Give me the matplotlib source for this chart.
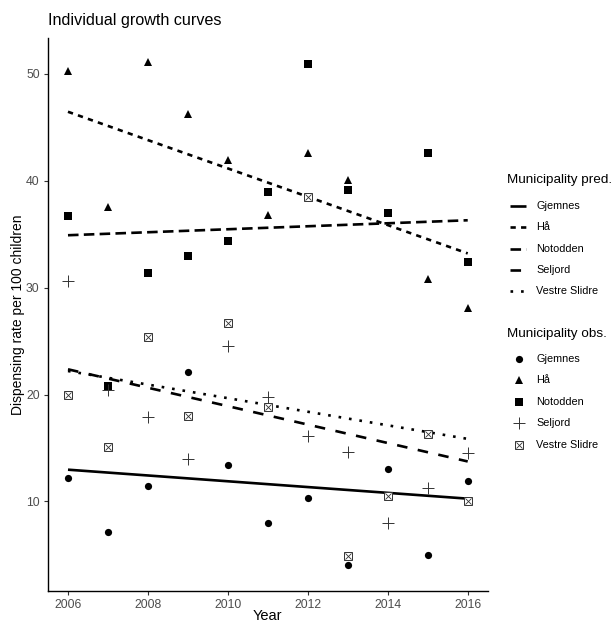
import matplotlib
matplotlib.use("Agg")
import matplotlib.pyplot as plt
import numpy as np

plt.rcParams["font.family"] = ["Liberation Sans", "DejaVu Sans"]

years = np.arange(2006, 2017)
municipalities = ["Gjemnes", "Hå", "Notodden", "Seljord", "Vestre Slidre"]

# observed dispensing rates, 2006-2016 (NaN = no observation)
obs_gjemnes = [12.2, 7.1, 11.45, 22.1, 13.4, 8.0, 10.3, 4.05, 13.0, 4.95, 11.9]
obs_ha = [50.3, 37.5, 51.1, 46.2, 41.9, 36.8, 42.6, 40.1, np.nan, 30.8, 28.1]
obs_notodden = [36.7, 20.8, 31.4, 33.0, 34.35, 38.9, 50.9, 39.1, 37.0, 42.6, 32.4]
obs_seljord = [30.6, 20.4, 17.9, 14.0, 24.5, 19.8, 16.1, 14.6, 8.0, 11.3, 14.5]
obs_vestre = [20.0, 15.05, 25.4, 18.0, 26.65, 18.8, 38.5, 4.9, 10.5, 16.3, 10.0]

# predicted linear growth curves: value at 2006 and at 2016
pred_start = [12.97, 46.45, 34.9, 22.36, 22.2]
pred_end = [10.26, 33.2, 36.3, 13.74, 15.85]

observed = [obs_gjemnes, obs_ha, obs_notodden, obs_seljord, obs_vestre]
dashes = [None, (2, 2), (4, 2), (4, 4), (1, 3)]

W, H = 613, 622
fig = plt.figure(figsize=(W / 100, H / 100), dpi=100)
ax = fig.add_axes([48 / W, 1 - 590.7 / H, (487.7 - 48) / W, (590.7 - 38) / H])

lw = 1.9
GREY = "#333333"


def styled_line(ln, i):
    ln.set_solid_capstyle("butt")
    ln.set_dash_capstyle("butt")
    if dashes[i] is not None:
        ln.set_dashes(dashes[i])
    return ln


def draw_marker(axis, x, y, i):
    # ggplot shapes 16, 17, 15, 3, 7
    if i == 0:
        axis.plot(x, y, ls="none", marker="o", ms=5.2, color="black", mew=0)
    elif i == 1:
        axis.plot(x, y, ls="none", marker="^", ms=6.2, color="black", mew=0)
    elif i == 2:
        axis.plot(x, y, ls="none", marker="s", ms=5.2, color="black", mew=0)
    elif i == 3:
        axis.plot(x, y, ls="none", marker="+", ms=8, mew=0.7, color=GREY)
    else:
        axis.plot(x, y, ls="none", marker="s", ms=5.2, mfc="white", mec=GREY, mew=0.7)
        axis.plot(x, y, ls="none", marker="x", ms=3.8, mew=0.6, color=GREY)


for i in range(len(municipalities)):
    ln, = ax.plot([years[0], years[-1]], [pred_start[i], pred_end[i]], color="black", lw=lw)
    styled_line(ln, i)

for i in range(len(municipalities)):
    draw_marker(ax, years, np.array(observed[i], dtype=float), i)

ax.set_xlim(2005.5, 2016.5)
ax.set_ylim(1.65, 53.35)
ax.set_xticks([2006, 2008, 2010, 2012, 2014, 2016])
ax.set_yticks([10, 20, 30, 40, 50])
for s in ["top", "right"]:
    ax.spines[s].set_visible(False)
for s in ["left", "bottom"]:
    ax.spines[s].set_linewidth(1.0)
ax.tick_params(labelcolor="#4D4D4D", color=GREY, labelsize=8.8, length=3, width=0.8, pad=3)
ax.set_xlabel("Year", fontsize=10.5)
ax.set_ylabel("Dispensing rate per 100 children", fontsize=10.0)
ax.xaxis.set_label_coords(0.5, -(609 - 590.7) / (590.7 - 38))
ax.yaxis.set_label_coords(-(48 - 25.5) / (487.7 - 48), 0.5)

# overlay in figure pixels for title and legends
lay = fig.add_axes([0, 0, 1, 1], zorder=-1)
lay.set_xlim(0, W)
lay.set_ylim(H, 0)
lay.axis("off")

lay.text(48, 21, "Individual growth curves", fontsize=11.6, va="center", ha="left")

leg_fs = 7.8
title_fs = 9.7
lay.text(507, 180, "Municipality pred.", fontsize=title_fs, va="center", ha="left")
for i, name in enumerate(municipalities):
    py = 206 + 21.3 * i
    h, = lay.plot([510, 526], [py, py], color="black", lw=lw)
    styled_line(h, i)
    lay.text(536.5, py, name, fontsize=leg_fs, va="center", ha="left")

lay.text(507, 334, "Municipality obs.", fontsize=title_fs, va="center", ha="left")
for i, name in enumerate(municipalities):
    py = 359 + 21.4 * i
    draw_marker(lay, [519], [py], i)
    lay.text(536.5, py, name, fontsize=leg_fs, va="center", ha="left")

fig.savefig("out.png", dpi=100)
